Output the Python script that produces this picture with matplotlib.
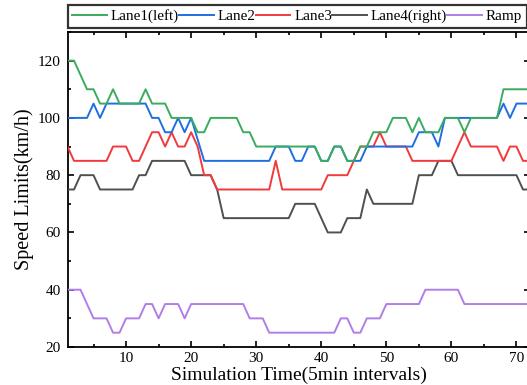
import numpy as np
import matplotlib.pyplot as plt
from matplotlib.ticker import MultipleLocator

plt.rcParams['font.family'] = ['Liberation Serif', 'DejaVu Serif']

t = np.arange(1, 73)

lane1 = [120, 120, 115, 110, 110, 105, 105, 110, 105, 105, 105, 105, 110, 105, 105, 105,
         100, 100, 100, 100, 95, 95, 100, 100, 100, 100, 100, 95, 95, 90, 90, 90,
         90, 90, 90, 90, 90, 90, 90, 85, 85, 90, 90, 85, 85, 90, 90, 95,
         95, 95, 100, 100, 100, 95, 100, 95, 95, 95, 100, 100, 100, 95, 100, 100,
         100, 100, 100, 110, 110, 110, 110, 110]
lane2 = [100, 100, 100, 100, 105, 100, 105, 105, 105, 105, 105, 105, 105, 100, 100, 95,
         95, 100, 95, 100, 92.5, 85, 85, 85, 85, 85, 85, 85, 85, 85, 85, 85,
         90, 90, 90, 85, 85, 90, 90, 85, 85, 90, 90, 85, 85, 85, 90, 90,
         90, 90, 90, 90, 90, 90, 95, 95, 95, 90, 100, 100, 100, 100, 100, 100,
         100, 100, 100, 105, 100, 105, 105, 105]
lane3 = [90, 85, 85, 85, 85, 85, 85, 90, 90, 90, 85, 85, 90, 95, 95, 90,
         95, 90, 90, 95, 90, 80, 80, 75, 75, 75, 75, 75, 75, 75, 75, 75,
         85, 75, 75, 75, 75, 75, 75, 75, 80, 80, 80, 80, 85, 90, 90, 90,
         95, 90, 90, 90, 90, 85, 85, 85, 85, 85, 85, 85, 90, 95, 90, 90,
         90, 90, 90, 85, 90, 90, 85, 85]
lane4 = [75, 75, 80, 80, 80, 75, 75, 75, 75, 75, 75, 80, 80, 85, 85, 85,
         85, 85, 85, 80, 80, 80, 80, 75, 65, 65, 65, 65, 65, 65, 65, 65,
         65, 65, 65, 70, 70, 70, 70, 65, 60, 60, 60, 65, 65, 65, 75, 70,
         70, 70, 70, 70, 70, 70, 80, 80, 80, 85, 85, 85, 80, 80, 80, 80,
         80, 80, 80, 80, 80, 80, 75, 75]
ramp = [40, 40, 40, 35, 30, 30, 30, 25, 25, 30, 30, 30, 35, 35, 30, 35,
        35, 35, 30, 35, 35, 35, 35, 35, 35, 35, 35, 35, 30, 30, 30, 25,
        25, 25, 25, 25, 25, 25, 25, 25, 25, 25, 30, 30, 25, 25, 30, 30,
        30, 35, 35, 35, 35, 35, 35, 40, 40, 40, 40, 40, 40, 35, 35, 35,
        35, 35, 35, 35, 35, 35, 35, 35]

names = ['Lane1(left)', 'Lane2', 'Lane3', 'Lane4(right)', 'Ramp']
colors = ['#3aac5e', '#1f6fe3', '#f23a3c', '#505050', '#b07ee6']
series = [lane1, lane2, lane3, lane4, ramp]

fig = plt.figure(figsize=(5.27, 3.85), dpi=100)
ax = fig.add_axes([67.5/527, 38/385, 462/527, 315/385])

# lane1 drawn on top, ramp at the bottom
for k, (y, c, n) in enumerate(zip(series, colors, names)):
    ax.plot(t, y, color=c, lw=1.4, label=n, zorder=10 - k)

ax.set_xlim(1, 72)
ax.set_ylim(20, 130)
ax.xaxis.set_major_locator(MultipleLocator(10))
ax.xaxis.set_minor_locator(MultipleLocator(5))
ax.yaxis.set_major_locator(MultipleLocator(20))
ax.yaxis.set_minor_locator(MultipleLocator(10))
ax.tick_params(which='both', direction='in', top=True, right=True, width=1.2, labelsize=11)
ax.tick_params(axis='y', pad=5)
ax.tick_params(which='major', length=4)
ax.tick_params(which='minor', length=2.5)
for s in ax.spines.values():
    s.set_linewidth(1.3)

ax.set_xlabel('Simulation Time(5min intervals)', fontsize=14, labelpad=1)
ax.set_ylabel('Speed Limits(km/h)', fontsize=14.5, labelpad=3)

leg = ax.legend(loc='lower left', bbox_to_anchor=(0, 1.012), ncol=5, fontsize=10.9,
                frameon=True, fancybox=False, edgecolor='black', borderpad=0.32,
                columnspacing=0.0, handletextpad=0.25, handlelength=2.3,
                borderaxespad=0)
leg.get_frame().set_linewidth(1.6)

plt.savefig('out.png', dpi=100)
